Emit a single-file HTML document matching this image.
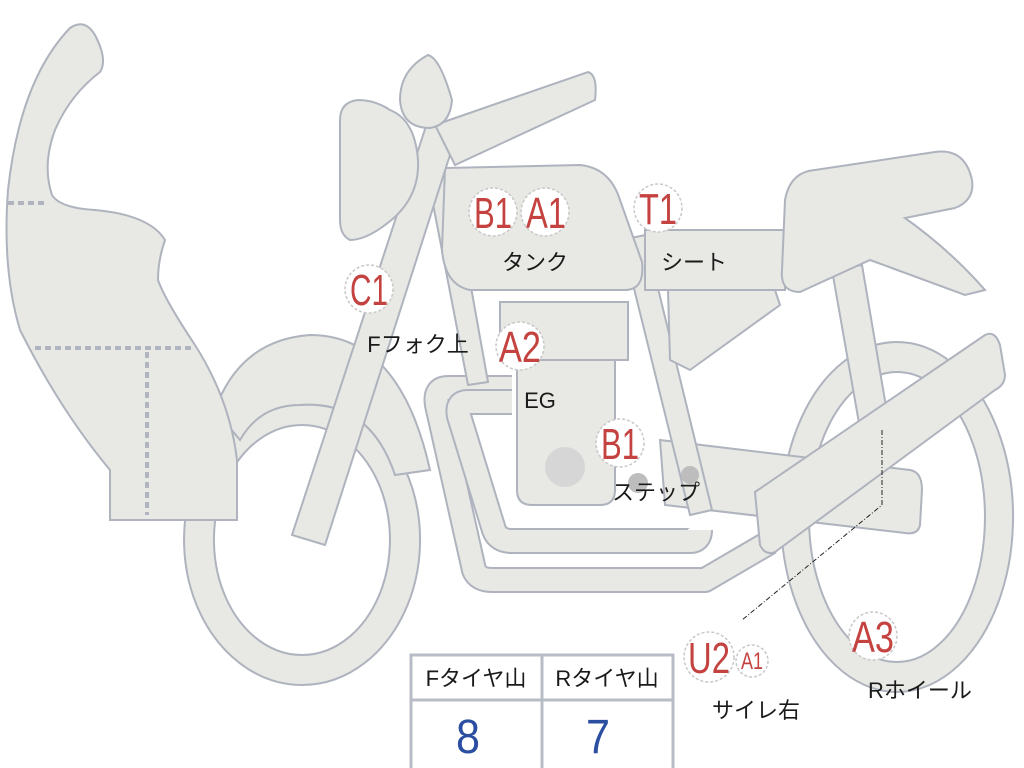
<!DOCTYPE html>
<html><head><meta charset="utf-8"><style>
html,body{margin:0;padding:0;background:#fff;width:1024px;height:768px;overflow:hidden}
svg{display:block}
.s{fill:#e8e8e4;stroke:#aeb3be;stroke-width:2}
.lbl{font-family:"Liberation Sans","Noto Sans CJK JP",sans-serif;fill:#c4423f;text-anchor:middle}
.t{font-family:"Liberation Sans","Noto Sans CJK JP",sans-serif;fill:#1a1a1a;font-size:22px;text-anchor:middle}
.c{fill:#fff;stroke:#c8c8c8;stroke-width:1.5;stroke-dasharray:3 2}
.po{fill:none;stroke:#aeb3be;stroke-width:26;stroke-linejoin:round}
.pi{fill:none;stroke:#e8e8e4;stroke-width:22;stroke-linejoin:round}
</style></head><body>
<svg width="1024" height="768" viewBox="0 0 1024 768" xmlns="http://www.w3.org/2000/svg">
<path class="s" fill-rule="evenodd" d="M302,395 A118,145 0 1 0 302.1,395 Z M302,425 A88,115 0 1 1 301.9,425 Z"/>
<path class="s" fill-rule="evenodd" d="M897,342 A116,175 0 1 0 897.1,342 Z M897,372 A88,145 0 1 1 896.9,372 Z"/>
<path class="s" d="M215,410 Q240,340 310,335 Q400,335 430,470 L395,475 Q370,400 300,405 Q260,405 240,440 Z"/>
<path class="s" d="M8,190 Q20,80 70,28 Q85,18 95,35 Q108,60 100,72 Q70,95 55,130 Q42,165 52,195 Q60,208 95,210 Q150,215 165,240 Q158,260 158,280 Q165,300 195,345 Q230,400 237,460 L237,520 L110,520 L110,470 Q60,410 20,330 Q2,270 8,190 Z"/>
<g stroke="#b0b4c0" stroke-width="4" stroke-dasharray="6 4" fill="none">
<line x1="8" y1="203" x2="48" y2="203"/><line x1="35" y1="348" x2="192" y2="348"/><line x1="147" y1="352" x2="147" y2="515"/>
</g>
<!-- exhaust pipes -->
<path class="po" d="M512,388 L448,388 Q434,388 437,405 L474,570 Q478,580 492,580 L705,580 L770,542"/>
<path class="pi" d="M512,388 L448,388 Q434,388 437,405 L474,570 Q478,580 492,580 L705,580 L770,542"/>
<path class="po" d="M512,402 L468,402 Q456,402 459,416 L494,530 Q498,541 512,541 L690,541 Q700,541 700,530"/>
<path class="pi" d="M512,402 L468,402 Q456,402 459,416 L494,530 Q498,541 512,541 L690,541 Q700,541 700,530"/>
<path class="s" d="M660,440 L910,470 Q922,472 922,490 L920,525 Q918,535 905,533 L665,505 Z"/>
<path class="s" d="M832,270 L862,265 L890,430 L862,440 Z"/>
<path class="s" d="M428,178 L450,170 L488,382 L468,385 Z"/>
<path class="s" d="M622,240 L645,235 L712,510 L690,515 Z"/>
<path class="s" d="M517,355 L615,355 L615,490 Q615,505 600,505 L532,505 Q517,505 517,490 Z"/>
<rect class="s" x="500" y="302" width="128" height="58"/>
<circle cx="565" cy="467" r="20" fill="#d6d6d6"/>
<circle cx="638" cy="483" r="10" fill="#bdbdbd"/><circle cx="690" cy="475" r="9" fill="#bdbdbd"/>
<path class="s" d="M668,290 L775,290 L780,305 L690,370 L670,360 Z"/>
<path class="s" d="M445,168 L580,165 Q610,168 620,200 L642,262 Q645,290 625,290 L470,290 Q445,285 442,250 Z"/>
<rect class="s" x="645" y="230" width="140" height="60"/>
<path class="s" d="M785,200 Q790,172 815,170 L935,152 Q965,148 972,180 Q975,200 955,208 L905,218 Q950,250 985,290 L965,295 L870,260 L800,292 Q780,292 782,270 Z"/>
<path class="s" d="M755,492 L985,335 Q995,330 1000,345 L1005,375 Q1005,385 995,390 L775,552 Q765,556 760,545 Z"/>
<path class="s" d="M428,120 L458,130 L325,545 L292,535 Z"/>
<path class="s" d="M435,125 L588,72 Q598,75 595,100 L455,165 Z"/>
<path class="s" d="M400,100 Q400,70 428,55 Q440,58 452,100 Q450,125 430,128 Q402,128 400,100 Z"/>
<path class="s" d="M340,120 Q340,102 358,100 Q375,100 390,110 Q415,120 418,160 Q420,200 385,225 Q365,240 350,240 Q340,235 340,220 Z"/>
<path d="M882,430 L882,505 L742,620" fill="none" stroke="#222" stroke-width="1" stroke-dasharray="5 2 1 2"/>
<g>
<circle class="c" cx="493" cy="212" r="24"/><circle class="c" cx="545" cy="212" r="24"/>
<circle class="c" cx="658" cy="208" r="24"/><circle class="c" cx="369" cy="289" r="24"/>
<circle class="c" cx="520" cy="346" r="24"/><circle class="c" cx="620" cy="443" r="24"/>
<circle class="c" cx="709" cy="657" r="25"/><circle class="c" cx="752" cy="661" r="16"/>
<circle class="c" cx="873" cy="636" r="24"/>
</g>
<g class="lbl" font-size="44">
<text x="493" y="228" textLength="38" lengthAdjust="spacingAndGlyphs">B1</text>
<text x="546" y="228" textLength="40" lengthAdjust="spacingAndGlyphs">A1</text>
<text x="658" y="224" textLength="38" lengthAdjust="spacingAndGlyphs">T1</text>
<text x="369" y="305" textLength="38" lengthAdjust="spacingAndGlyphs">C1</text>
<text x="520" y="362" textLength="42" lengthAdjust="spacingAndGlyphs">A2</text>
<text x="620" y="459" textLength="38" lengthAdjust="spacingAndGlyphs">B1</text>
<text x="709" y="673" textLength="42" lengthAdjust="spacingAndGlyphs">U2</text>
<text x="873" y="652" textLength="42" lengthAdjust="spacingAndGlyphs">A3</text>
</g>
<text class="lbl" x="752" y="669" font-size="24" textLength="22" lengthAdjust="spacingAndGlyphs">A1</text>
<text class="t" x="535" y="270">タンク</text>
<text class="t" x="694" y="270">シート</text>
<text class="t" x="418" y="352">Fフォク上</text>
<text class="t" x="540" y="408">EG</text>
<text class="t" x="656" y="500">ステップ</text>
<text class="t" x="756" y="718">サイレ右</text>
<text class="t" x="920" y="698">Rホイール</text>
<g fill="none" stroke="#b8bcc6" stroke-width="3">
<rect x="411" y="655" width="262" height="118"/>
<line x1="411" y1="700" x2="673" y2="700"/><line x1="542" y1="655" x2="542" y2="768"/>
</g>
<text class="t" x="476" y="686">Fタイヤ山</text>
<text class="t" x="607" y="686">Rタイヤ山</text>
<text x="468" y="753" font-family="Liberation Sans,sans-serif" font-size="48" fill="#2b4ea0" text-anchor="middle" textLength="24" lengthAdjust="spacingAndGlyphs">8</text>
<text x="598" y="753" font-family="Liberation Sans,sans-serif" font-size="48" fill="#2b4ea0" text-anchor="middle" textLength="24" lengthAdjust="spacingAndGlyphs">7</text>
</svg>
</body></html>
